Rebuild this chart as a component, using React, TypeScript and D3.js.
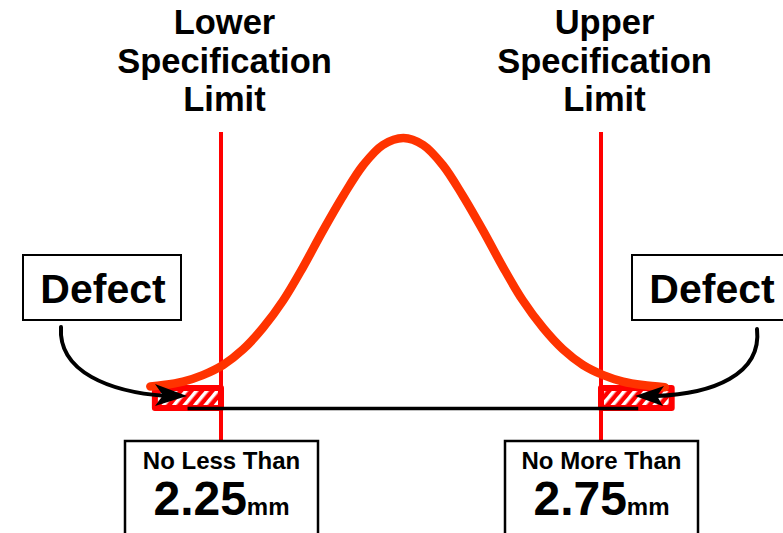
import React from "react";
import * as d3 from "d3";

const sizesMm = [2.157, 2.174, 2.2, 2.226, 2.253, 2.279, 2.305, 2.332, 2.358, 2.384, 2.411, 2.437, 2.463, 2.490, 2.516, 2.542, 2.568, 2.595, 2.621, 2.647, 2.674, 2.7, 2.726, 2.753, 2.779, 2.805, 2.834];
const frequency = [0.08, 0.085, 0.098, 0.122, 0.16, 0.217, 0.296, 0.399, 0.522, 0.656, 0.787, 0.899, 0.974, 1.0, 0.974, 0.899, 0.787, 0.656, 0.522, 0.399, 0.296, 0.217, 0.16, 0.122, 0.098, 0.085, 0.077];

const specLimits = [2.25, 2.75];
const specTitles = [["Lower", "Specification", "Limit"], ["Upper", "Specification", "Limit"]];
const specCaptions = ["No Less Than", "No More Than"];
const specValueLabels = ["2.25", "2.75"];
const unitLabel = "mm";
const defectLabel = "Defect";
const defectZones = [[2.163, 2.25], [2.75, 2.843]];
const baselineRange = [2.206, 2.799];

const W = 783;
const H = 533;
const FONT = "'Liberation Sans', Arial, Helvetica, sans-serif";

export default function App() {
  const x = d3.scaleLinear().domain(specLimits).range([221, 601]);
  const y = d3.scaleLinear().domain([0, 1]).range([408, 138]);

  const pts = sizesMm.map((m, i) => [m, frequency[i]] as [number, number]);
  const line = d3
    .line<[number, number]>()
    .x((d) => x(d[0]))
    .y((d) => y(d[1]))
    .curve(d3.curveCatmullRom.alpha(0.5));

  const zoneTop = 388;
  const zoneBottom = 408;

  return (
    <svg
      width={W}
      height={H}
      viewBox={`0 0 ${W} ${H}`}
      style={{ position: "absolute", left: 0, top: 0, display: "block", background: "#fff" }}
    >
      <defs>
        <pattern id="hatch" patternUnits="userSpaceOnUse" width="8" height="8" patternTransform="rotate(40)">
          <rect width="8" height="8" fill="#ff0000" />
          <rect x="0" y="0" width="3.5" height="8" fill="#ffffff" />
        </pattern>
      </defs>

      {/* defect zones */}
      {defectZones.map((z, i) => (
        <rect
          key={"z" + i}
          x={x(z[0])}
          y={zoneTop}
          width={x(z[1]) - x(z[0])}
          height={zoneBottom - zoneTop}
          fill="url(#hatch)"
          stroke="#ff0000"
          strokeWidth={6}
          strokeLinejoin="round"
        />
      ))}

      {/* spec limit lines */}
      {specLimits.map((s, i) => (
        <line key={"l" + i} x1={x(s)} x2={x(s)} y1={132} y2={441} stroke="#ff0000" strokeWidth={4} />
      ))}

      {/* baseline */}
      <line x1={x(baselineRange[0])} x2={x(baselineRange[1])} y1={408.5} y2={408.5} stroke="#000" strokeWidth={3.5} />

      {/* distribution curve */}
      <path d={line(pts) || ""} fill="none" stroke="#ff3300" strokeWidth={8.5} strokeLinecap="round" strokeLinejoin="round" />

      {/* arrows */}
      <path d="M 61 327 C 58 372, 110 392, 166 396" fill="none" stroke="#000" strokeWidth={4} strokeLinecap="round" />
      <path d="M 187 396 L 155 384 L 163 395.5 L 155 406 Z" fill="#000" />
      <path d="M 757 329 C 762 375, 712 394, 656 396" fill="none" stroke="#000" strokeWidth={4} strokeLinecap="round" />
      <path d="M 635 396 L 664 386 L 657 396 L 663 406 Z" fill="#000" />

      {/* defect boxes */}
      {[23, 632].map((bx, i) => (
        <g key={"d" + i}>
          <rect x={bx} y={255} width={158} height={65} fill="#fff" stroke="#000" strokeWidth={2} />
          <text x={bx + 80} y={303} textAnchor="middle" fontFamily={FONT} fontWeight="bold" fontSize={41} fill="#000">
            {defectLabel}
          </text>
        </g>
      ))}

      {/* titles */}
      {specTitles.map((lines, i) => (
        <text key={"t" + i} textAnchor="middle" fontFamily={FONT} fontWeight="bold" fontSize={34.5} fill="#000">
          {lines.map((ln, j) => (
            <tspan key={j} x={x(specLimits[i]) + 3.5} y={34 + j * 38.5}>
              {ln}
            </tspan>
          ))}
        </text>
      ))}

      {/* value boxes */}
      {specLimits.map((s, i) => {
        const cx = x(s) + 0.5;
        return (
          <g key={"v" + i}>
            <rect x={cx - 96.5} y={441} width={193} height={120} fill="#fff" stroke="#000" strokeWidth={2.5} />
            <text x={cx} y={469} textAnchor="middle" fontFamily={FONT} fontWeight="bold" fontSize={24} fill="#000">
              {specCaptions[i]}
            </text>
            <text x={cx} y={515} textAnchor="middle" fontFamily={FONT} fontWeight="bold" fill="#000">
              <tspan fontSize={48}>{specValueLabels[i]}</tspan>
              <tspan fontSize={24}>{unitLabel}</tspan>
            </text>
          </g>
        );
      })}
    </svg>
  );
}
